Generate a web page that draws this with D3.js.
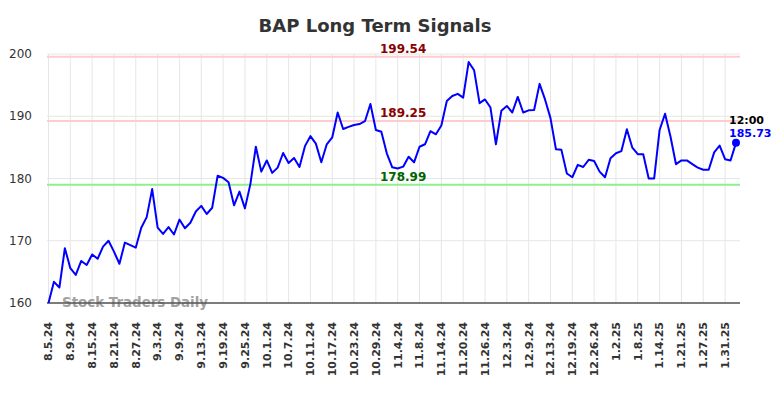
<!DOCTYPE html>
<html>
<head>
<meta charset="utf-8">
<script src="https://cdn.jsdelivr.net/npm/d3@7"></script>
<style>
  body { margin: 0; background: #fff; }
  text { font-family: "DejaVu Sans", sans-serif; }
</style>
</head>
<body>
<svg id="chart" width="784" height="398"></svg>
<script>
// chart data
const title = "BAP Long Term Signals";
const tickLabels = ["8.5.24", "8.9.24", "8.15.24", "8.21.24", "8.27.24", "9.3.24", "9.9.24", "9.13.24",
  "9.19.24", "9.25.24", "10.1.24", "10.7.24", "10.11.24", "10.17.24", "10.23.24", "10.29.24",
  "11.4.24", "11.8.24", "11.14.24", "11.20.24", "11.26.24", "12.3.24", "12.9.24", "12.13.24",
  "12.19.24", "12.26.24", "1.2.25", "1.8.25", "1.14.25", "1.21.25", "1.27.25", "1.31.25"];
const tickEvery = 4; // one label every 4 trading days
const prices = [
  160.0, 163.4, 162.5, 168.8, 165.6, 164.5, 166.75, 166.1, 167.8, 167.1,
  169.05, 170.0, 168.25, 166.3, 169.7, 169.3, 168.9, 172.1, 173.8, 178.3,
  172.1, 171.1, 172.2, 171.0, 173.4, 172.0, 172.9, 174.7, 175.6, 174.3,
  175.3, 180.45, 180.1, 179.4, 175.7, 177.9, 175.2, 179.1, 185.1, 181.1,
  182.9, 180.9, 181.75, 184.1, 182.5, 183.3, 181.85, 185.2, 186.8, 185.6,
  182.6, 185.5, 186.6, 190.6, 187.95, 188.3, 188.6, 188.75, 189.2, 191.97,
  187.8, 187.5, 184.05, 181.8, 181.6, 181.9, 183.5, 182.6, 185.1, 185.5,
  187.6, 187.1, 188.5, 192.45, 193.25, 193.6, 193.0, 198.7, 197.4, 192.1,
  192.7, 191.4, 185.5, 190.9, 191.65, 190.6, 193.1, 190.6, 190.95, 191.0,
  195.2, 192.7, 189.7, 184.7, 184.6, 180.8, 180.2, 182.2, 181.85, 183.0,
  182.8, 181.1, 180.2, 183.25, 184.05, 184.4, 187.9, 184.95, 183.9, 183.9,
  180.0, 180.0, 187.8, 190.4, 186.7, 182.3, 182.9, 182.9, 182.3, 181.75,
  181.4, 181.4, 184.2, 185.3, 183.1, 182.9, 185.73];
const yTicks = [160, 170, 180, 190, 200];
const levels = [199.54, 189.25, 178.99];
const levelKinds = ["resistance", "resistance", "support"];
const levelLabelIndex = 65; // where the level labels sit
const lastTime = "12:00";

const svg = d3.select("#chart");
const plot = { left: 47, right: 740, top: 54, bottom: 303 };

const xScale = d3.scaleLinear()
  .domain([0, prices.length - 1])
  .range([plot.left + 1.5, plot.right - 4]);
const yScale = d3.scaleLinear()
  .domain([160, 200])
  .range([plot.bottom, plot.top]);

const tickIdx = tickLabels.map((d, i) => i * tickEvery);

// grid
svg.append("g")
  .selectAll("line")
  .data(yTicks)
  .enter()
  .append("line")
  .attr("x1", plot.left).attr("x2", plot.right)
  .attr("y1", d => yScale(d)).attr("y2", d => yScale(d))
  .attr("stroke", "#e6e6e6").attr("stroke-width", 1);

svg.append("g")
  .selectAll("line")
  .data(tickIdx)
  .enter()
  .append("line")
  .attr("x1", d => xScale(d)).attr("x2", d => xScale(d))
  .attr("y1", plot.top).attr("y2", plot.bottom)
  .attr("stroke", "#e6e6e6").attr("stroke-width", 1);

// y axis labels
svg.append("g")
  .selectAll("text")
  .data(yTicks)
  .enter()
  .append("text")
  .attr("x", 32)
  .attr("y", d => yScale(d))
  .attr("dy", "0.35em")
  .attr("text-anchor", "end")
  .attr("font-size", 12)
  .attr("fill", "#333")
  .text(d => d);

// x axis labels, rotated
svg.append("g")
  .selectAll("text")
  .data(tickLabels)
  .enter()
  .append("text")
  .attr("transform", (d, i) => `translate(${xScale(tickIdx[i])},322) rotate(-90)`)
  .attr("dy", "0.35em")
  .attr("text-anchor", "end")
  .attr("font-size", 11)
  .attr("font-weight", "bold")
  .attr("fill", "#333")
  .text(d => d);

// support / resistance lines
svg.append("g")
  .selectAll("line")
  .data(levels)
  .enter()
  .append("line")
  .attr("x1", plot.left).attr("x2", plot.right)
  .attr("y1", d => yScale(d)).attr("y2", d => yScale(d))
  .attr("stroke", (d, i) => levelKinds[i] === "support" ? "#90ee90" : "#ffcccc")
  .attr("stroke-width", 2);

// watermark
svg.append("text")
  .attr("x", 62)
  .attr("y", 307)
  .attr("font-size", 13.4)
  .attr("font-weight", "bold")
  .attr("fill", "#999")
  .attr("opacity", 0.9)
  .text("Stock Traders Daily");

// bottom axis line
svg.append("line")
  .attr("x1", plot.left).attr("x2", plot.right)
  .attr("y1", yScale(160)).attr("y2", yScale(160))
  .attr("stroke", "#555").attr("stroke-width", 1.5);

// price line
const line = d3.line()
  .x((d, i) => xScale(i))
  .y(d => yScale(d));

svg.append("path")
  .datum(prices)
  .attr("d", line)
  .attr("fill", "none")
  .attr("stroke", "#0000ff")
  .attr("stroke-width", 2)
  .attr("stroke-linejoin", "round");

// level labels
svg.append("g")
  .selectAll("text")
  .data(levels)
  .enter()
  .append("text")
  .attr("x", xScale(levelLabelIndex))
  .attr("y", d => yScale(d) - 4)
  .attr("text-anchor", "middle")
  .attr("font-size", 12)
  .attr("font-weight", "bold")
  .attr("fill", (d, i) => levelKinds[i] === "support" ? "#006400" : "#8b0000")
  .text(d => d.toFixed(2));

// last point
const lastI = prices.length - 1;
const last = prices[lastI];
svg.append("circle")
  .attr("cx", xScale(lastI))
  .attr("cy", yScale(last))
  .attr("r", 4)
  .attr("fill", "#0000ff");

svg.append("text")
  .attr("x", xScale(lastI) - 7)
  .attr("y", yScale(last) - 19)
  .attr("font-size", 11)
  .attr("font-weight", "bold")
  .attr("fill", "#000")
  .text(lastTime);

svg.append("text")
  .attr("x", xScale(lastI) - 7)
  .attr("y", yScale(last) - 6)
  .attr("font-size", 11)
  .attr("font-weight", "bold")
  .attr("fill", "#0000ff")
  .text(last.toFixed(2));

// title
svg.append("text")
  .attr("x", 375)
  .attr("y", 32)
  .attr("text-anchor", "middle")
  .attr("font-size", 18)
  .attr("font-weight", "bold")
  .attr("fill", "#333")
  .text(title);
</script>
</body>
</html>
